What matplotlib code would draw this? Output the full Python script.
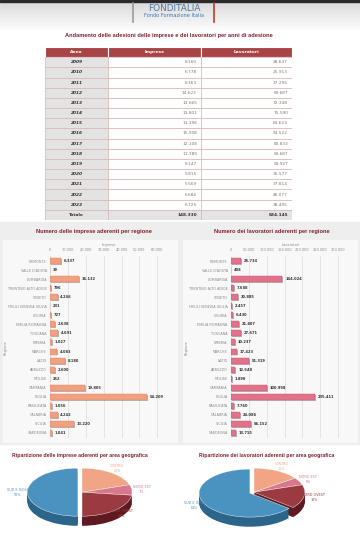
"""Fonditalia: adesioni per anno, per regione e per area geografica."""

import matplotlib
matplotlib.use("Agg")  # headless
import matplotlib.pyplot as plt
import matplotlib.patheffects as pe
from matplotlib.patches import Rectangle
import numpy as np

W, H = 360, 539

# --- data -------------------------------------------------------------------
anni = ["2009", "2010", "2011", "2012", "2013", "2014", "2015", "2016",
        "2017", "2018", "2019", "2020", "2021", "2022", "2023"]
imprese_anno = [8160, 6778, 8363, 14622, 13665, 13801, 11396, 15908,
                12108, 11389, 8147, 5815, 5569, 6684, 6725]
lavoratori_anno = [28647, 25913, 37295, 69687, 72348, 75590, 64623, 94522,
                   80833, 69687, 59927, 35577, 37814, 46077, 38405]
totale_imprese = 148330
totale_lavoratori = 834145

regioni = ["PIEMONTE", "VALLE D'AOSTA", "LOMBARDIA", "TRENTINO ALTO ADIGE",
           "VENETO", "FRIULI VENEZIA GIULIA", "LIGURIA", "EMILIA ROMAGNA",
           "TOSCANA", "UMBRIA", "MARCHE", "LAZIO", "ABRUZZO", "MOLISE",
           "CAMPANIA", "PUGLIA", "BASILICATA", "CALABRIA", "SICILIA", "SARDEGNA"]
imprese_regione = [6337, 39, 16132, 796, 4246, 231, 727, 2638, 4691, 1027,
                   4083, 8180, 2600, 252, 19805, 54209, 1056, 4242, 13220, 1041]
lavoratori_regione = [26734, 408, 144024, 7688, 20885, 2457, 6430, 21807,
                      27671, 10237, 17423, 51319, 12548, 1890, 100998, 235411,
                      7760, 24086, 56152, 13715]
tick_imprese = [0, 10000, 20000, 30000, 40000, 50000, 60000]
tick_lavoratori = [0, 50000, 100000, 150000, 200000, 250000, 300000]

aree = ["CENTRO", "NORD EST", "NORD OVEST", "SUD E ISOLE"]
imprese_area_pct = [20, 7, 23, 50]
lavoratori_area_pct = [15, 5, 16, 64]

# --- palette ----------------------------------------------------------------
TITLE_RED = "#7d1f2c"
HEAD_RED = "#a94446"
GRID = "#dcdcdc"
MUTED = "#8a8a8a"
PIE_TOP = ["#f2a584", "#d9788c", "#9b3a41", "#4a93c0"]
PIE_SIDE = ["#c47a5c", "#a44d60", "#5e1a20", "#2b6589"]
TITLE_FONT = ["Liberation Sans", "DejaVu Sans"]


def fmt(v):
    return f"{v:,}".replace(",", ".")


def px_axes(fig, x0, y0, w, h, **kw):
    return fig.add_axes([x0 / W, 1 - (y0 + h) / H, w / W, h / H], **kw)


fig = plt.figure(figsize=(W / 100, H / 100), dpi=100, facecolor="white")

# background / decoration layer in pixel coordinates
bg = px_axes(fig, 0, 0, W, H)
bg.set_xlim(0, W)
bg.set_ylim(H, 0)
bg.axis("off")
grad = np.linspace(0, 1, 64).reshape(-1, 1)
bg.imshow(grad, extent=(0, W, 30, 2), cmap=matplotlib.colors.LinearSegmentedColormap.from_list(
    "hdr", ["#dadada", "#fcfcfc"]), aspect="auto", zorder=0)
bg.add_patch(Rectangle((0, 0), W, 2, color="#2a2a2a", zorder=1))
bg.add_patch(Rectangle((0, 222), W, 222, color="#eeeeee", zorder=0))
bg.add_patch(Rectangle((3, 240), 174, 202, color="#f8f8f8", zorder=0))
bg.add_patch(Rectangle((183, 240), 174, 202, color="#f8f8f8", zorder=0))

# logo
bg.plot([133, 133], [3, 22], color="#9a9a9a", lw=1.2, zorder=2)
bg.plot([214, 214], [3, 22], color="#c0392b", lw=1.2, zorder=2)
bg.text(174, 8.5, "FONDITALIA", ha="center", va="center", fontsize=6.4,
        color="#4d77a3", family="DejaVu Sans", zorder=2)
bg.text(174, 15.5, "Fondo Formazione Italia", ha="center", va="center",
        fontsize=3.6, color="#3f78b5", zorder=2)

# section titles
title_kw = dict(ha="center", va="center", color=TITLE_RED, fontweight="bold",
                family=TITLE_FONT, zorder=3)
bg.text(169, 35, "Andamento delle adesioni delle imprese e dei lavoratori per anni di adesione",
        fontsize=4.1, **title_kw)
bg.text(94, 232, "Numero delle imprese aderenti per regione", fontsize=4.1, **title_kw)
bg.text(272, 232, "Numero dei lavoratori aderenti per regione", fontsize=4.1, **title_kw)
bg.text(80, 455, "Ripartizione delle imprese aderenti per area geografica", fontsize=3.7, **title_kw)
bg.text(267, 455, "Ripartizione dei lavoratori aderenti per area geografica", fontsize=3.7, **title_kw)
for xr in (6, 187):
    bg.text(xr, 348, "Regione", rotation=90, ha="center", va="center",
            fontsize=2.6, color=MUTED, zorder=3)

# --- table ------------------------------------------------------------------
tab = px_axes(fig, 45, 47, 247, 173)
tab.set_xlim(0, 247)
tab.set_ylim(len(anni) + 0.5, -1.5)
tab.axis("off")
col_edges = [0, 63, 156, 247]
headers = ["Anno", "Imprese", "Lavoratori"]
for c, name in enumerate(headers):
    x0, x1 = col_edges[c], col_edges[c + 1]
    tab.add_patch(Rectangle((x0, -1.5), x1 - x0, 1, facecolor=HEAD_RED,
                            edgecolor="white", lw=0.8))
    tab.text((x0 + x1) / 2, -1.0, name, ha="center", va="center", color="white",
             fontsize=3.2, fontweight="bold")

rows = [(a, fmt(i), fmt(l)) for a, i, l in zip(anni, imprese_anno, lavoratori_anno)]
rows.append(("Totale", fmt(totale_imprese), fmt(totale_lavoratori)))
for r, row in enumerate(rows):
    last = r == len(rows) - 1
    for c, txt in enumerate(row):
        x0, x1 = col_edges[c], col_edges[c + 1]
        face = "#e3e3e3" if (c == 0 or last) else "white"
        tab.add_patch(Rectangle((x0, r - 0.5), x1 - x0, 1, facecolor=face,
                                edgecolor="#dbb4b4", lw=0.5))
        if c == 0:
            tab.text((x0 + x1) / 2, r, txt, ha="center", va="center", fontsize=3.2,
                     fontweight="bold", fontstyle="normal" if last else "italic",
                     color="#333333")
        else:
            tab.text(x1 - 4, r, txt, ha="right", va="center", fontsize=3.1,
                     color="#333333" if last else "#777777",
                     fontweight="bold" if last else "normal")


# --- horizontal bars --------------------------------------------------------
def bar_panel(ax, values, color, edge, xmax, ticks, axis_label, off):
    y = np.arange(len(regioni))
    bars = ax.barh(y, values, height=0.66, color=color, edgecolor=edge, lw=0.3, zorder=3)
    for b in bars:
        b.set_path_effects([pe.SimplePatchShadow(offset=(0.7, -0.7), shadow_rgbFace="#7a7a7a",
                                                 alpha=0.5), pe.Normal()])
    for yi, v in zip(y, values):
        ax.text(v + off, yi, fmt(v), ha="left", va="center", fontsize=2.6,
                fontweight="bold", color="#333333", zorder=4)
    ax.set_facecolor("none")
    ax.set_xlim(0, xmax)
    ax.set_ylim(len(regioni) - 0.4, -0.6)
    ax.xaxis.tick_top()
    ax.xaxis.set_label_position("top")
    ax.set_xticks(ticks)
    ax.set_xticklabels([fmt(t) for t in ticks], fontsize=2.5, color=MUTED)
    ax.set_xlabel(axis_label, fontsize=2.5, color=MUTED, labelpad=1.5)
    ax.set_yticks(y)
    ax.set_yticklabels(regioni, fontsize=2.4, color=MUTED)
    ax.tick_params(length=0, pad=2.5)
    ax.xaxis.grid(True, color=GRID, lw=0.5, zorder=0)
    ax.set_axisbelow(True)
    for s in ax.spines.values():
        s.set_visible(False)


ax_imp = px_axes(fig, 50, 255.6, 118, 182.8)
bar_panel(ax_imp, imprese_regione, "#f2a07f", "#d98462", 66000, tick_imprese,
          "Imprese", 1500)
ax_lav = px_axes(fig, 231, 255.6, 119, 182.8)
bar_panel(ax_lav, lavoratori_regione, "#e27289", "#c2566d", 333000, tick_lavoratori,
          "Lavoratori", 7500)


# --- pseudo 3D pies ---------------------------------------------------------
def pie3d(ax, pct, depth=0.4):
    explode = [0, 0, 0, 0.09]
    for k in np.linspace(depth, 0.02, 12):
        ax.pie(pct, colors=PIE_SIDE, explode=explode, startangle=90,
               counterclock=False, center=(0, -k), wedgeprops=dict(linewidth=0))
    labels = [f"{a}\n{p}%" for a, p in zip(aree, pct)]
    _, texts = ax.pie(pct, colors=PIE_TOP, explode=explode, startangle=90,
                      counterclock=False, labels=labels, labeldistance=1.2,
                      textprops=dict(fontsize=2.4, linespacing=1.3),
                      wedgeprops=dict(linewidth=0.3, edgecolor="white"))
    for t, c in zip(texts, PIE_TOP):
        t.set_color(c)
        t.set_horizontalalignment("center")
    ax.set_aspect("auto")
    ax.set_xlim(-1.35, 1.35)
    ax.set_ylim(-1.3 - depth, 1.3)


ax_p1 = px_axes(fig, 14.5, 461, 135, 72)
pie3d(ax_p1, imprese_area_pct)
ax_p2 = px_axes(fig, 185.5, 461, 137, 72)
pie3d(ax_p2, lavoratori_area_pct)

fig.savefig("out.png", dpi=100, facecolor="white")
